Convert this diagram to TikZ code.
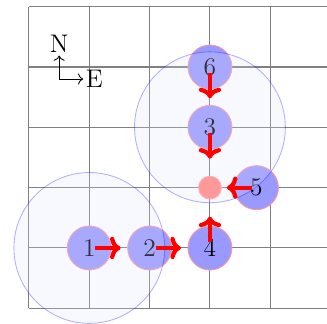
\documentclass[tikz,border=0pt]{standalone}
\usetikzlibrary{arrows.meta}
\begin{document}
\begin{tikzpicture}[
  font=\large,
  agent/.style={circle, minimum size=0.73cm, inner sep=0pt, fill=blue!40, draw=red!40},
  zone/.style={circle, minimum size=2.5cm, inner sep=0pt, fill=blue!12, fill opacity=0.22, draw=blue, draw opacity=0.3},
  move/.style={draw=red, line width=2pt, -{To[length=5pt,width=10.5pt]}},
  cell/.style={draw=gray, line width=0.5pt}
]
\useasboundingbox (-0.48,-0.25) rectangle (4.94,5.11);
\draw[cell] (0,0) grid (4.94,5);
% compass
\coordinate (o) at (0.5,3.8);
\node[anchor=south, inner sep=1pt] (N) at (0.5,4.19) {N};
\node[anchor=west, inner sep=1pt] (E) at (0.9,3.8) {E};
\draw[->] (o) -- (N.south);
\draw[->] (o) -- (E.west);
% agents
\node[agent] (a1) at (1,1) {1};
\node[agent] (a2) at (2,1) {2};
\node[agent] (a4) at (3,1) {4};
\node[agent] (a3) at (3,3) {3};
\node[agent] (a6) at (3,4) {6};
\node[agent] (a5) at (3.77,2) {5};
% zones
\node[zone] (z1) at (1,1) {};
\node[zone] (z2) at (3,3) {};
% target
\node[circle, minimum size=0.38cm, inner sep=0pt, fill=red!40, draw=red!30] (t) at (3,2) {};
% moves
\draw[move] ([xshift=0.1cm]a1.center) -- ([xshift=0.52cm]a1.center);
\draw[move] ([xshift=0.1cm]a2.center) -- ([xshift=0.52cm]a2.center);
\draw[move] ([yshift=0.1cm]a4.center) -- ([yshift=0.52cm]a4.center);
\draw[move] ([xshift=-0.07cm]a5.center) -- ([xshift=-0.49cm]a5.center);
\draw[move] ([yshift=-0.1cm]a6.center) -- ([yshift=-0.52cm]a6.center);
\draw[move] ([yshift=-0.1cm]a3.center) -- ([yshift=-0.52cm]a3.center);
\end{tikzpicture}
\end{document}
